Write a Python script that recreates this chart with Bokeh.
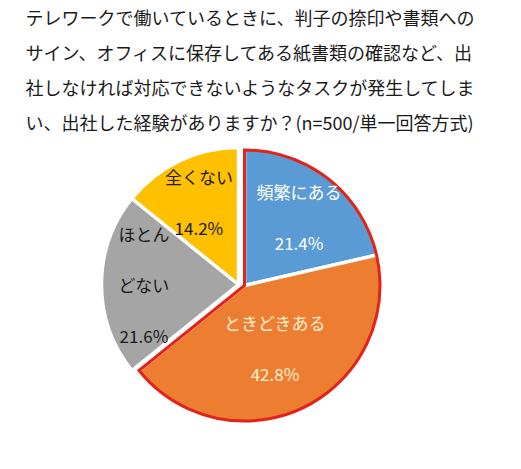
import numpy as np
from bokeh.plotting import figure
from bokeh.models import Range1d, ColumnDataSource
from bokeh.core.properties import value
from bokeh.embed import file_html
from bokeh.resources import INLINE

# ---- data ----
title_lines = [
    "テレワークで働いているときに、判子の捺印や書類への",
    "サイン、オフィスに保存してある紙書類の確認など、出",
    "社しなければ対応できないようなタスクが発生してしま",
    "い、出社した経験がありますか？(n=500/単一回答方式)",
]
categories = ["頻繁にある", "ときどきある", "ほとんどない", "全くない"]
display_names = ["頻繁にある", "ときどきある", "ほとん\nどない", "全くない"]
percents = [21.4, 42.8, 21.6, 14.2]

# ---- style ----
colors = ["#5B9BD5", "#ED7D31", "#A5A5A5", "#FFC000"]
label_colors = ["#FFFFFF", "#FFF0D2", "#1A1A1A", "#1A1A1A"]
highlight = [True, True, False, False]
label_r_frac = [0.64, 0.51, 0.69, 0.67]
FONT = "Noto Sans CJK JP"

W, H = 505, 453
PAGE_H = 469


def Y(y):  # page pixel y -> data y
    return PAGE_H - y


p = figure(width=W, height=H, output_backend="svg", toolbar_location=None,
           x_range=Range1d(8, 8 + W), y_range=Range1d(Y(8 + H), Y(8)),
           min_border=0, outline_line_color=None, background_fill_color="white")
p.axis.visible = False
p.grid.visible = False

# title
for i, line in enumerate(title_lines):
    p.text(x=[33], y=[Y(24 + i * 35.2)], text=[line], text_font=value(FONT),
           text_font_size="18px", text_color="#1A1A1A", text_align="left",
           text_baseline="middle")

# pie geometry
R = 137
base_center = (246, 292)
explode_center = (252, 293)

vals = np.array(percents, dtype=float)
frac = vals / vals.sum()
cum_end = np.cumsum(frac)
cum_start = cum_end - frac
start = np.pi / 2 - cum_end * 2 * np.pi
end = np.pi / 2 - cum_start * 2 * np.pi
mid = (start + end) / 2

cx = np.array([explode_center[0] if h else base_center[0] for h in highlight], dtype=float)
cy = np.array([Y(explode_center[1]) if h else Y(base_center[1]) for h in highlight], dtype=float)

src = ColumnDataSource(dict(x=cx, y=cy, start=start, end=end, color=colors))
p.wedge(x="x", y="y", radius=R, start_angle="start", end_angle="end",
        fill_color="color", line_color="white", line_width=3.5, source=src)

# red outline around highlighted group
hi = [i for i, h in enumerate(highlight) if h]
g_start = min(start[i] for i in hi)
g_end = max(end[i] for i in hi)
p.wedge(x=[explode_center[0]], y=[Y(explode_center[1])], radius=R - 1.5,
        start_angle=[g_start], end_angle=[g_end], fill_color=None,
        line_color="#E2231A", line_width=3, line_join="miter")

# slice labels
lx = cx + np.array(label_r_frac) * R * np.cos(mid)
ly = cy + np.array(label_r_frac) * R * np.sin(mid)
label_text = [f"{n}\n{v}%" for n, v in zip(display_names, percents)]
lsrc = ColumnDataSource(dict(x=lx, y=ly, text=label_text, color=label_colors))
p.text(x="x", y="y", text="text", text_color="color", source=lsrc,
       text_font=value(FONT), text_font_size="17px", text_align="center",
       text_baseline="middle", text_line_height=2.05)

open("out.html", "w").write(file_html(p, INLINE))
